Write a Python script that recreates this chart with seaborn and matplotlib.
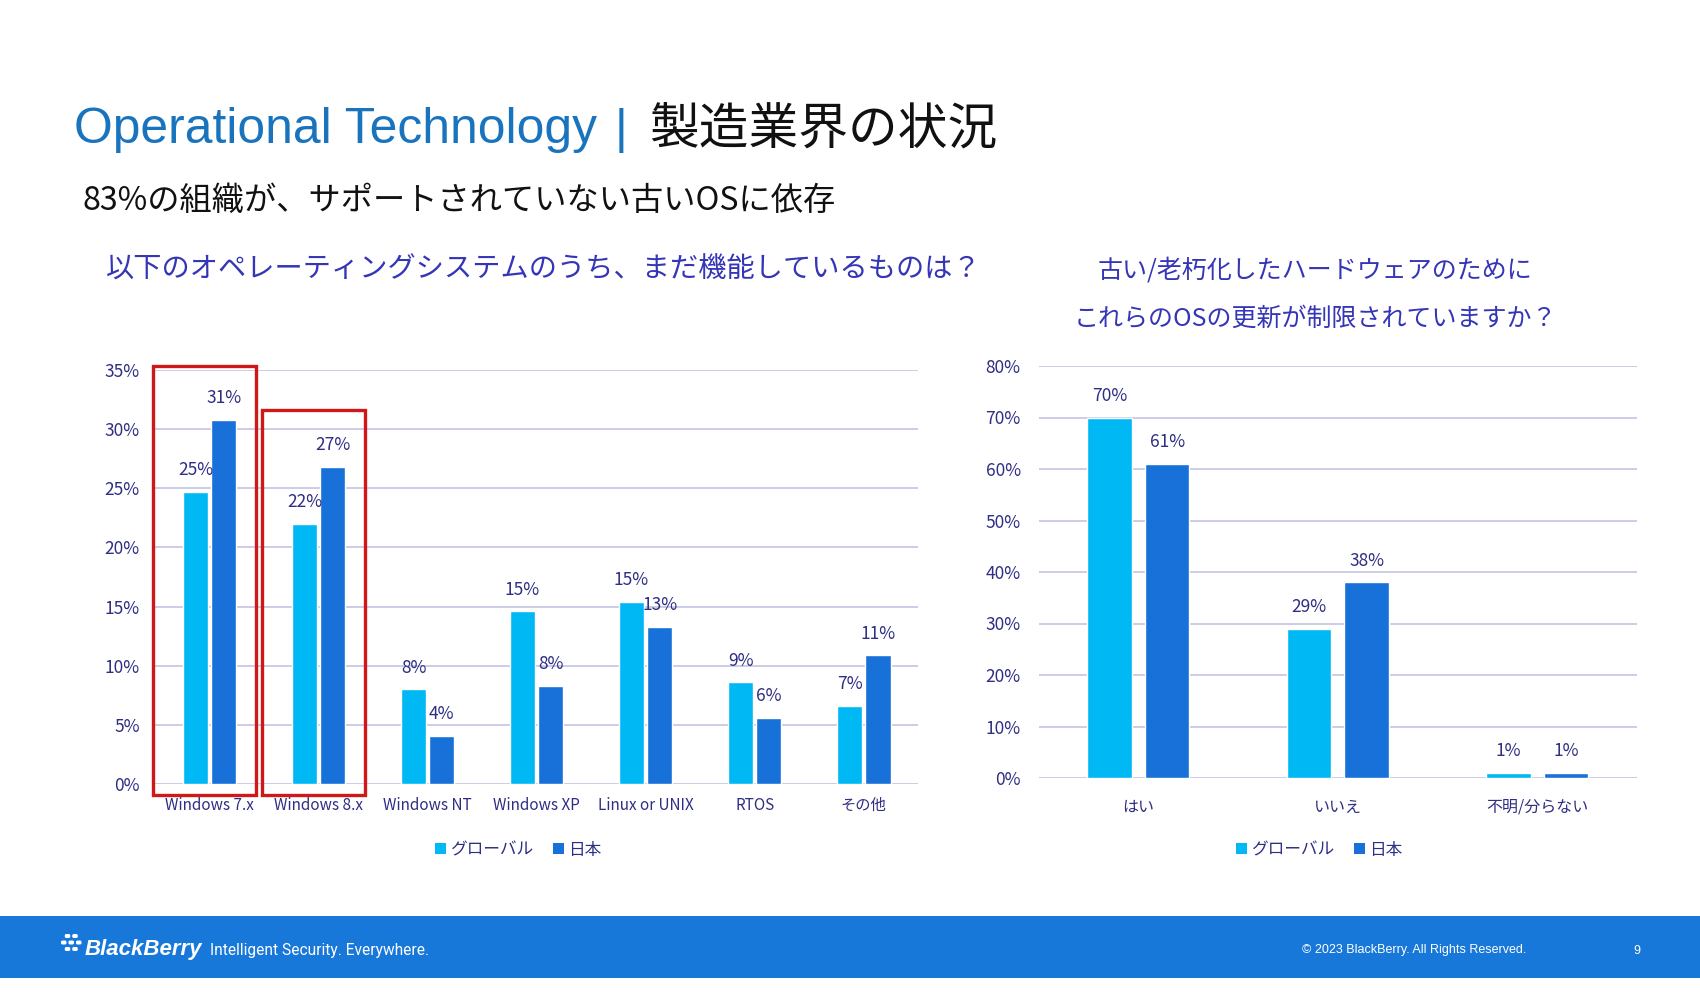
import matplotlib
matplotlib.use("Agg")
import matplotlib.pyplot as plt
from matplotlib.patches import Rectangle, Patch, FancyBboxPatch
import seaborn as sns
import pandas as pd

# ---------------- data ----------------
os_categories = ["Windows 7.x", "Windows 8.x", "Windows NT", "Windows XP",
                 "Linux or UNIX", "RTOS", "その他"]
os_global = [24.7, 22.0, 8.0, 14.6, 15.4, 8.6, 6.6]
os_japan = [30.8, 26.8, 4.1, 8.3, 13.3, 5.6, 10.9]

hw_categories = ["はい", "いいえ", "不明/分らない"]
hw_global = [70.0, 29.0, 1.0]
hw_japan = [61.0, 38.0, 1.0]

series_names = ["グローバル", "日本"]
left_yticks = [0, 5, 10, 15, 20, 25, 30, 35]
right_yticks = [0, 10, 20, 30, 40, 50, 60, 70, 80]
highlight = [("Windows 7.x", 35.3), ("Windows 8.x", 31.6)]

title_en = "Operational Technology"
title_jp = "製造業界の状況"
subtitle = "83%の組織が、サポートされていない古いOSに依存"
left_title = "以下のオペレーティングシステムのうち、まだ機能しているものは？"
right_title = ["古い/老朽化したハードウェアのために", "これらのOSの更新が制限されていますか？"]

# ---------------- style ----------------
sns.set_theme(style="white")
plt.rcParams["font.family"] = ["Noto Sans CJK JP", "DejaVu Sans"]

C_GLOBAL = "#00B9F4"
C_JAPAN = "#1771D9"
C_TEXT = "#2E2E84"
C_GRID = "#C3C3E3"
C_RED = "#D01818"
C_BAND = "#1878D9"

fig = plt.figure(figsize=(17, 10), dpi=100)
fig.patch.set_facecolor("white")


def make_df(cats, g, j):
    return pd.DataFrame({
        "cat": cats * 2,
        "value": list(g) + list(j),
        "series": [series_names[0]] * len(cats) + [series_names[1]] * len(cats),
    })


def style_axes(ax, yticks, xpad):
    ax.set_ylim(yticks[0], yticks[-1])
    ax.set_yticks(yticks)
    ax.set_yticklabels([f"{t}%" for t in yticks], color=C_TEXT, fontsize=12.5)
    ax.tick_params(axis="y", length=0, pad=11)
    ax.tick_params(axis="x", length=0, pad=xpad, labelcolor=C_TEXT, labelsize=11)
    for s in ax.spines.values():
        s.set_visible(False)
    ax.yaxis.grid(True, color=C_GRID, linewidth=1.2)
    ax.set_axisbelow(True)
    ax.set_xlabel("")
    ax.set_ylabel("")


def label_bars(ax):
    for cont in ax.containers:
        ax.bar_label(cont, labels=[f"{b.get_height():.0f}%" for b in cont],
                     padding=9, color=C_TEXT, fontsize=12.5)


# ---------------- left chart ----------------
axL = fig.add_axes([0.0912, 0.216, 0.449, 0.414])
dfL = make_df(os_categories, os_global, os_japan)
sns.barplot(data=dfL, x="cat", y="value", hue="series", order=os_categories,
            hue_order=series_names, palette=[C_GLOBAL, C_JAPAN], saturation=1,
            width=0.52, gap=0.115, legend=False, ax=axL)
style_axes(axL, left_yticks, 9)
axL.set_xlim(-0.5, len(os_categories) - 0.5)
label_bars(axL)

for name, top in highlight:
    i = os_categories.index(name)
    axL.add_patch(Rectangle((i - 0.52, -0.9), 0.943, top + 0.9, fill=False,
                            edgecolor=C_RED, linewidth=2.4, clip_on=False, zorder=5))

# ---------------- right chart ----------------
axR = fig.add_axes([0.611, 0.222, 0.352, 0.412])
dfR = make_df(hw_categories, hw_global, hw_japan)
sns.barplot(data=dfR, x="cat", y="value", hue="series", order=hw_categories,
            hue_order=series_names, palette=[C_GLOBAL, C_JAPAN], saturation=1,
            width=0.576, gap=0.226, legend=False, ax=axR)
style_axes(axR, right_yticks, 15)
axR.set_xlim(-0.5, len(hw_categories) - 0.5)
axR.tick_params(axis="y", pad=13)
axR.tick_params(axis="x", labelsize=11.5)
label_bars(axR)

# ---------------- legends ----------------
handles = [Patch(facecolor=C_GLOBAL, edgecolor="none"),
           Patch(facecolor=C_JAPAN, edgecolor="none")]
for ax, cx in [(axL, 0.305), (axR, 0.776)]:
    leg = ax.legend(handles, series_names, loc="center", bbox_to_anchor=(cx, 0.150),
                    bbox_transform=fig.transFigure, ncol=2, frameon=False,
                    handlelength=0.65, handleheight=0.65, handletextpad=0.25,
                    columnspacing=1.2, fontsize=12)
    for t in leg.get_texts():
        t.set_color(C_TEXT)

# ---------------- titles ----------------
fig.text(0.0435, 0.857, title_en, color="#1A74BD", fontsize=35.8,
         family=["Liberation Sans", "DejaVu Sans"], va="baseline", ha="left")
fig.text(0.3655, 0.857, "|", color="#1A74BD", fontsize=35,
         family=["Liberation Sans", "DejaVu Sans"], va="baseline", ha="center")
fig.text(0.382, 0.857, title_jp, color="#111111", fontsize=35.8, va="baseline", ha="left")
fig.text(0.0488, 0.799, subtitle, color="#111111", fontsize=23.2, va="center", ha="left")
fig.text(0.0618, 0.730, left_title, color="#3535B8", fontsize=20.3, va="center", ha="left")
fig.text(0.7735, 0.730, right_title[0], color="#3535B8", fontsize=18, va="center", ha="center")
fig.text(0.7735, 0.681, right_title[1], color="#3535B8", fontsize=18, va="center", ha="center")

# ---------------- footer ----------------
fig.patches.append(Rectangle((0, 0.022), 1, 0.062, transform=fig.transFigure,
                             facecolor=C_BAND, edgecolor="none", zorder=0))
dots = [(0.5, 0), (1.5, 0), (0, 1), (1, 1), (2, 1), (0.5, 2), (1.5, 2)]
for dx, dy in dots:
    fig.patches.append(FancyBboxPatch((61 + dx * 7.5, 1000 - 938 - dy * 6.5), 5.5, 4,
                                      boxstyle="round,pad=0,rounding_size=1.5",
                                      transform=None, facecolor="white",
                                      edgecolor="none", zorder=2))
fig.text(0.05, 0.0505, "BlackBerry", color="white", fontsize=16, fontweight="bold",
         fontstyle="italic", family=["Liberation Sans", "DejaVu Sans"], va="center", ha="left")
fig.text(0.1235, 0.0495, "Intelligent Security. Everywhere.", color="white", fontsize=11.2,
         family=["Roboto", "DejaVu Sans"], va="center", ha="left")
fig.text(0.898, 0.0495, "© 2023 BlackBerry. All Rights Reserved.", color="white", fontsize=9,
         family=["Liberation Sans", "DejaVu Sans"], va="center", ha="right")
fig.text(0.963, 0.0495, "9", color="white", fontsize=9,
         family=["Liberation Sans", "DejaVu Sans"], va="center", ha="center")

fig.savefig("out.png", dpi=100)
